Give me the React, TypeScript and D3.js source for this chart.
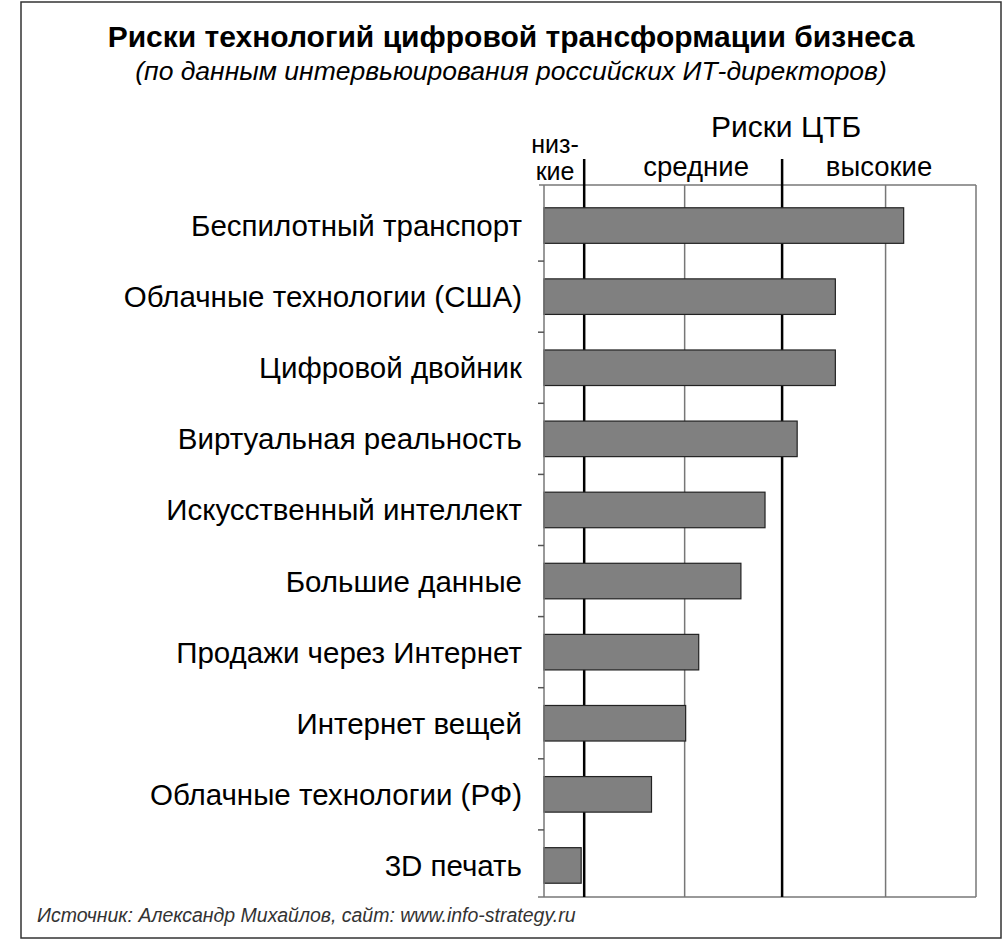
import React from "react";
import * as d3 from "d3";

const categories = [
  "Беспилотный транспорт",
  "Облачные технологии (США)",
  "Цифровой двойник",
  "Виртуальная реальность",
  "Искусственный интеллект",
  "Большие данные",
  "Продажи через Интернет",
  "Интернет вещей",
  "Облачные технологии (РФ)",
  "3D печать",
];
const values = [4.18, 3.5, 3.5, 3.12, 2.8, 2.56, 2.14, 2.01, 1.67, 0.97];
const gridValues = [2, 4];
const thresholds = [1, 2.97];
const zoneLabels = [
  { lines: ["низ-", "кие"], from: 0.6, to: 1 },
  { lines: ["средние"], from: 1, to: 2.97 },
  { lines: ["высокие"], from: 2.97, to: 4.9 },
];
const title = "Риски технологий цифровой трансформации бизнеса";
const subtitle = "(по данным интервьюирования российских ИТ-директоров)";
const axisTitle = "Риски ЦТБ";
const source = "Источник: Александр Михайлов, сайт: www.info-strategy.ru";

export default function App() {
  const W = 1002, H = 942;
  const left = 544, right = 976, top = 185, bottom = 897;
  const x = d3.scaleLinear().domain([0.6, 4.9]).range([left, right]);
  const y = d3.scaleBand<string>().domain(categories).range([190, 901]).paddingInner(0.5).paddingOuter(0.25);
  const step = y.step();
  const font = "'Liberation Sans', Arial, sans-serif";
  const boundaries = categories.slice(1).map((c) => (y(c) as number) - step * 0.25);
  const zoneShift = [-9, 13, 0];

  return (
    <svg width={W} height={H} style={{ position: "absolute", left: 0, top: 0, background: "#fff" }} fontFamily={font}>
      <rect x={21} y={2} width={980} height={936} fill="#fff" stroke="#333" strokeWidth={1.5} />
      <text x={511} y={47} textAnchor="middle" fontSize={30} fontWeight="bold" fill="#000">{title}</text>
      <text x={511} y={80} textAnchor="middle" fontSize={26.5} fontStyle="italic" fill="#000">{subtitle}</text>

      {/* plot frame */}
      <line x1={539} x2={right} y1={top} y2={top} stroke="#777" strokeWidth={1.5} />
      <line x1={538} x2={right} y1={bottom} y2={bottom} stroke="#777" strokeWidth={1.5} />
      <line x1={right} x2={right} y1={top} y2={bottom} stroke="#777" strokeWidth={1.5} />
      {gridValues.map((g) => (
        <line key={g} x1={x(g)} x2={x(g)} y1={top} y2={bottom} stroke="#777" strokeWidth={1.5} />
      ))}
      {thresholds.map((t) => (
        <line key={t} x1={x(t)} x2={x(t)} y1={159} y2={bottom} stroke="#000" strokeWidth={2.5} />
      ))}

      {/* bars */}
      {categories.map((c, i) => (
        <rect key={c} x={x(0.6)} y={y(c) as number} width={x(values[i]) - x(0.6)} height={y.bandwidth()}
          fill="#808080" stroke="#222" strokeWidth={1.2} />
      ))}

      {/* left axis */}
      <line x1={left} x2={left} y1={top} y2={bottom} stroke="#777" strokeWidth={1.5} />
      {boundaries.map((b, i) => (
        <line key={i} x1={538} x2={left} y1={b} y2={b} stroke="#555" strokeWidth={1.5} />
      ))}

      {/* category labels */}
      {categories.map((c) => (
        <text key={c} x={522} y={(y(c) as number) + y.bandwidth() / 2 + 10.5} textAnchor="end" fontSize={29.5} fill="#000">{c}</text>
      ))}

      {/* zone labels */}
      <text x={786} y={137} textAnchor="middle" fontSize={30} fill="#000">{axisTitle}</text>
      {zoneLabels.map((z, i) => {
        const cx = (x(z.from) + x(z.to)) / 2 + zoneShift[i];
        const n = z.lines.length;
        const gap = 27;
        const baseY = (n > 1 ? 180 : 176) - (n - 1) * gap;
        return (
          <text key={i} x={cx} y={baseY} textAnchor="middle" fontSize={n > 1 ? 25 : 27.5} fill="#000">
            {z.lines.map((l, j) => (
              <tspan key={j} x={cx} dy={j === 0 ? 0 : gap}>{l}</tspan>
            ))}
          </text>
        );
      })}

      <text x={37} y={922} fontSize={19.5} fontStyle="italic" fill="#333">{source}</text>
    </svg>
  );
}
